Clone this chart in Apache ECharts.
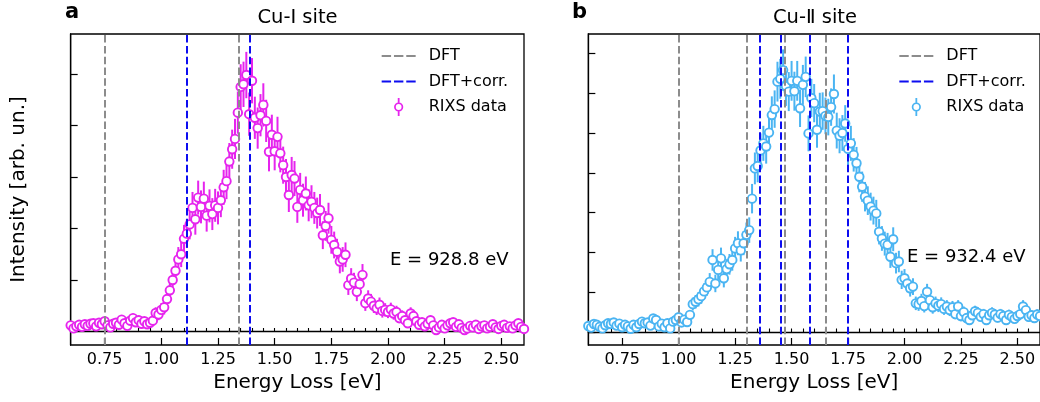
<!DOCTYPE html>
<html>
<head>
<meta charset="utf-8">
<script src="https://cdn.jsdelivr.net/npm/echarts@6/dist/echarts.min.js"></script>
<style>
  html, body { margin: 0; padding: 0; background: #ffffff; }
  #chart { width: 1040px; height: 402px; }
</style>
</head>
<body>
<div id="chart"></div>
<script>
// Energy-loss grid of both RIXS scans (eV)
const E_START = 0.6;
const E_STEP = 0.0125;

// Cu-I site, incident energy 928.8 eV
const cu1Intensity = [
  0.12,0.06,0.10,0.13,0.09,0.14,0.11,0.15,0.16,0.10,
  0.17,0.14,0.20,0.12,0.08,0.15,0.17,0.13,0.23,0.16,
  0.11,0.21,0.26,0.18,0.22,0.15,0.20,0.14,0.17,0.21,
  0.36,0.33,0.42,0.47,0.63,0.80,1.00,1.18,1.40,1.50,
  1.80,1.90,2.08,2.40,2.18,2.60,2.42,2.58,2.25,2.44,
  2.28,2.45,2.40,2.55,2.80,2.92,3.30,3.54,3.74,4.25,
  4.75,4.80,4.98,4.22,4.87,4.15,3.95,4.20,4.40,4.09,
  3.49,3.82,3.50,3.78,3.46,3.23,3.00,2.65,3.04,2.97,
  2.42,2.75,2.55,2.68,2.45,2.52,2.40,2.30,2.36,1.87,
  2.05,2.20,1.78,1.68,1.55,1.36,1.40,1.49,0.90,1.03,
  0.95,0.77,0.92,1.10,0.55,0.64,0.58,0.50,0.45,0.52,
  0.40,0.42,0.38,0.43,0.35,0.38,0.26,0.30,0.22,0.16,
  0.35,0.30,0.20,0.13,0.18,0.10,0.15,0.22,0.12,0.03,
  0.08,0.13,0.06,0.12,0.16,0.18,0.09,0.14,0.07,0.03,
  0.06,0.11,0.08,0.13,0.05,0.10,0.12,0.06,0.09,0.14,
  0.08,0.05,0.11,0.13,0.07,0.10,0.06,0.12,0.16,0.09,
  0.05
];
const cu1Error = [
  0.06,0.05,0.06,0.07,0.06,0.07,0.06,0.07,0.08,0.06,
  0.07,0.07,0.08,0.06,0.05,0.07,0.08,0.07,0.09,0.07,
  0.06,0.08,0.09,0.08,0.09,0.07,0.08,0.07,0.08,0.09,
  0.11,0.11,0.13,0.14,0.16,0.18,0.20,0.22,0.24,0.25,
  0.27,0.28,0.29,0.31,0.30,0.33,0.32,0.33,0.31,0.32,
  0.31,0.32,0.32,0.33,0.34,0.35,0.36,0.38,0.39,0.41,
  0.44,0.44,0.45,0.42,0.44,0.41,0.40,0.41,0.42,0.41,
  0.38,0.39,0.37,0.39,0.37,0.36,0.35,0.33,0.35,0.34,
  0.31,0.33,0.32,0.33,0.31,0.32,0.31,0.30,0.31,0.27,
  0.29,0.30,0.27,0.26,0.25,0.23,0.24,0.24,0.19,0.20,
  0.19,0.18,0.19,0.21,0.15,0.16,0.15,0.14,0.13,0.14,
  0.13,0.13,0.12,0.13,0.12,0.12,0.10,0.11,0.09,0.08,
  0.12,0.11,0.09,0.07,0.08,0.06,0.07,0.09,0.07,0.05,
  0.06,0.07,0.05,0.07,0.08,0.08,0.06,0.07,0.06,0.05,
  0.05,0.07,0.06,0.07,0.05,0.06,0.07,0.05,0.06,0.07,
  0.06,0.05,0.07,0.07,0.05,0.06,0.05,0.07,0.08,0.06,
  0.05
];

// Cu-II site, incident energy 932.4 eV
const cu2Intensity = [
  0.15,0.11,0.20,0.18,0.13,0.09,0.17,0.22,0.20,0.24,
  0.16,0.21,0.12,0.18,0.14,0.08,0.18,0.12,0.20,0.26,
  0.22,0.24,0.16,0.34,0.30,0.14,0.21,0.12,0.22,0.09,
  0.26,0.30,0.37,0.24,0.31,0.25,0.43,0.70,0.76,0.82,
  0.90,1.02,1.12,1.26,1.81,1.22,1.56,1.85,1.35,1.58,
  1.70,1.81,2.10,2.23,2.05,2.23,2.44,2.56,3.35,4.11,
  4.17,4.56,4.74,4.66,5.01,5.45,5.60,6.29,6.36,6.58,
  6.18,6.04,6.31,6.05,6.31,5.62,6.21,6.41,4.99,5.88,
  5.75,5.08,5.54,5.55,5.43,5.40,5.65,5.98,5.06,4.93,
  5.00,5.24,4.60,4.74,4.45,4.24,3.90,3.65,3.40,3.30,
  3.15,3.05,2.98,2.52,2.35,2.22,2.19,1.89,2.33,1.73,
  1.77,1.31,1.35,1.22,1.10,1.14,0.72,0.70,0.78,0.65,
  1.01,0.80,0.62,0.72,0.66,0.70,0.58,0.64,0.55,0.62,
  0.45,0.64,0.40,0.50,0.35,0.30,0.42,0.52,0.48,0.38,
  0.45,0.30,0.42,0.48,0.44,0.36,0.45,0.40,0.30,0.43,
  0.38,0.33,0.40,0.45,0.64,0.55,0.38,0.42,0.35,0.44,
  0.40
];
const cu2Error = [
  0.07,0.06,0.08,0.08,0.07,0.06,0.08,0.08,0.08,0.09,
  0.07,0.08,0.06,0.08,0.07,0.06,0.08,0.07,0.08,0.09,
  0.09,0.09,0.08,0.10,0.10,0.07,0.08,0.07,0.09,0.06,
  0.09,0.10,0.11,0.09,0.10,0.09,0.12,0.16,0.17,0.18,
  0.19,0.20,0.21,0.22,0.27,0.22,0.25,0.27,0.23,0.25,
  0.26,0.27,0.29,0.30,0.28,0.30,0.31,0.32,0.37,0.40,
  0.41,0.43,0.44,0.43,0.45,0.47,0.47,0.50,0.50,0.52,
  0.50,0.49,0.50,0.49,0.50,0.47,0.50,0.51,0.45,0.48,
  0.48,0.45,0.47,0.47,0.46,0.46,0.47,0.49,0.45,0.44,
  0.45,0.46,0.43,0.44,0.42,0.41,0.39,0.38,0.37,0.36,
  0.35,0.35,0.34,0.32,0.31,0.30,0.30,0.28,0.30,0.26,
  0.27,0.23,0.23,0.22,0.21,0.21,0.17,0.17,0.18,0.16,
  0.20,0.18,0.16,0.17,0.16,0.17,0.15,0.16,0.15,0.16,
  0.13,0.16,0.13,0.14,0.12,0.11,0.13,0.14,0.14,0.12,
  0.13,0.11,0.13,0.14,0.13,0.12,0.13,0.13,0.11,0.13,
  0.12,0.11,0.13,0.13,0.16,0.15,0.12,0.13,0.12,0.13,
  0.13
];

// Calculated transition energies (eV)
const cu1Dft = [0.75, 1.34];
const cu1DftCorr = [1.11, 1.39];
const cu2Dft = [1.00, 1.30, 1.47, 1.65];
const cu2DftCorr = [1.36, 1.45, 1.585, 1.745];

// Axis ticks
const xMajorTicks = [0.75, 1.00, 1.25, 1.50, 1.75, 2.00, 2.25, 2.50];
const cu1YTicks = [0, 1, 2, 3, 4, 5];
const cu2YTicks = [0, 1, 2, 3, 4, 5, 6, 7];

const energy = cu1Intensity.map((_, i) => +(E_START + i * E_STEP).toFixed(4));

const FONT = 'DejaVu Sans';
const MAGENTA = '#e624ee';
const SKY = '#4ab4f2';
const GREY = '#8c8c8c';
const BLUE = '#0d0df0';
const DASH = [7.5, 3.3];
const FRAME = { color: '#000', width: 1.3 };

const panels = [
  { left: 70.67, yMin: -0.262, yMax: 5.777, yTicks: cu1YTicks, yName: 'Intensity [arb. un.]',
    values: cu1Intensity, errors: cu1Error, dft: cu1Dft, corr: cu1DftCorr, color: MAGENTA, tag: 'a' },
  { left: 588.33, yMin: -0.327, yMax: 7.487, yTicks: cu2YTicks, yName: '',
    values: cu2Intensity, errors: cu2Error, dft: cu2Dft, corr: cu2DftCorr, color: SKY, tag: 'b' }
];

const grid = [], xAxis = [], yAxis = [], series = [], legend = [];

// Legend keys: open circle with a vertical error bar, and a three-dash line
const dataIcon = 'path://M0.4 9A4.6 4.6 0 1 0 9.6 9A4.6 4.6 0 1 0 0.4 9Z' +
  'M2.1 9A2.9 2.9 0 1 1 7.9 9A2.9 2.9 0 1 1 2.1 9Z' +
  'M4.1 0L5.9 0L5.9 4.4L4.1 4.4Z M4.1 13.6L5.9 13.6L5.9 18L4.1 18Z';
const dashIcon = 'path://M0 0L0.01 0L0 0.01Z M34 18L33.99 18L34 17.99Z' +
  'M0 8L9.4 8L9.4 10L0 10Z M12.3 8L21.7 8L21.7 10L12.3 10Z M24.6 8L34 8L34 10L24.6 10Z';

panels.forEach((p, g) => {
  grid.push({ left: p.left, top: 34, width: 453.33, height: 311, show: true,
    borderColor: '#000', borderWidth: 1.3, backgroundColor: 'transparent' });

  // minor ticks every 0.05 eV
  xAxis.push({ type: 'value', gridIndex: g, position: 'bottom', min: 0.6, max: 2.6, interval: 0.05,
    axisLine: { show: true, lineStyle: FRAME },
    axisTick: { show: true, inside: true, length: 3.5, lineStyle: { color: '#000', width: 1.1 } },
    axisLabel: { show: false }, splitLine: { show: false } });
  // major ticks, labels and axis title
  xAxis.push({ type: 'value', gridIndex: g, position: 'bottom', min: 0.6, max: 2.6,
    axisLine: { show: false },
    axisTick: { show: true, inside: true, length: 7, customValues: xMajorTicks,
      lineStyle: { color: '#000', width: 1.2 } },
    axisLabel: { show: true, customValues: xMajorTicks, formatter: v => v.toFixed(2),
      fontFamily: FONT, fontSize: 16, color: '#000', margin: 7 },
    splitLine: { show: false },
    name: 'Energy Loss [eV]', nameLocation: 'middle', nameGap: 27,
    nameTextStyle: { fontFamily: FONT, fontSize: 20, color: '#000' } });

  yAxis.push({ type: 'value', gridIndex: g, min: p.yMin, max: p.yMax,
    axisLine: { show: true, lineStyle: FRAME },
    axisTick: { show: true, inside: true, length: 7, customValues: p.yTicks,
      lineStyle: { color: '#000', width: 1.2 } },
    axisLabel: { show: false }, splitLine: { show: false },
    name: p.yName, nameLocation: 'middle', nameGap: 42,
    nameTextStyle: { fontFamily: FONT, fontSize: 20, color: '#000' } });

  const xi = g * 2, yi = g;
  const sfx = '|' + p.tag;

  const vlines = (name, color, list) => ({
    type: 'line', name: name + sfx, xAxisIndex: xi, yAxisIndex: yi, data: [],
    symbol: 'none', z: 1,
    lineStyle: { color: color, width: 2, type: DASH },
    itemStyle: { color: color },
    markLine: { silent: true, symbol: 'none', label: { show: false }, animation: false,
      lineStyle: { color: color, width: 2, type: DASH },
      emphasis: { disabled: true },
      data: list.map(x => ({ xAxis: x })) }
  });
  series.push(vlines('DFT', GREY, p.dft));
  series.push(vlines('DFT+corr.', BLUE, p.corr));

  // error bars
  series.push({ type: 'custom', name: 'err' + sfx, xAxisIndex: xi, yAxisIndex: yi, z: 3,
    silent: true,
    data: energy.map((e, i) => [e, p.values[i] - p.errors[i], p.values[i] + p.errors[i]]),
    encode: { x: 0, y: [1, 2] },
    renderItem: (params, api) => {
      const a = api.coord([api.value(0), api.value(1)]);
      const b = api.coord([api.value(0), api.value(2)]);
      return { type: 'line', shape: { x1: a[0], y1: a[1], x2: b[0], y2: b[1] },
        style: { stroke: p.color, lineWidth: 2 } };
    } });

  // measured points
  series.push({ type: 'scatter', name: 'RIXS data' + sfx, xAxisIndex: xi, yAxisIndex: yi, z: 4,
    data: energy.map((e, i) => [e, p.values[i]]),
    symbol: 'circle', symbolSize: 8.5,
    itemStyle: { color: '#ffffff', borderColor: p.color, borderWidth: 1.9, opacity: 1 } });

  legend.push({
    orient: 'vertical', left: p.left + 311, top: 47, padding: 0,
    itemWidth: 34, itemHeight: 18, itemGap: 7.5, selectedMode: false,
    formatter: n => n.split('|')[0],
    textStyle: { fontFamily: FONT, fontSize: 16, color: '#000', padding: [0, 0, 0, 8] },
    data: [
      { name: 'DFT' + sfx, icon: dashIcon, itemStyle: { color: GREY, borderWidth: 0 } },
      { name: 'DFT+corr.' + sfx, icon: dashIcon, itemStyle: { color: BLUE, borderWidth: 0 } },
      { name: 'RIXS data' + sfx, icon: dataIcon, itemStyle: { color: p.color, borderWidth: 0 } }
    ]
  });
});

const text = (x, y, s, size, weight, align) => ({
  type: 'text', x: x, y: y, silent: true,
  style: { text: s, fontFamily: FONT, fontSize: size, fontWeight: weight || 'normal',
    fill: '#000', align: align || 'center', verticalAlign: 'middle' } });

const chart = echarts.init(document.getElementById('chart'), null, { renderer: 'canvas' });
chart.setOption({
  animation: false,
  backgroundColor: '#ffffff',
  grid, xAxis, yAxis, series, legend,
  graphic: [
    text(297.5, 18, 'Cu-I site', 19.5),
    text(815, 18, 'Cu-\u2161 site', 19.5),
    text(65, 13, 'a', 21, 'bold', 'left'),
    text(572, 13, 'b', 21, 'bold', 'left'),
    text(390, 260, 'E = 928.8 eV', 18, 'normal', 'left'),
    text(907, 257, 'E = 932.4 eV', 18, 'normal', 'left')
  ]
});
</script>
</body>
</html>
